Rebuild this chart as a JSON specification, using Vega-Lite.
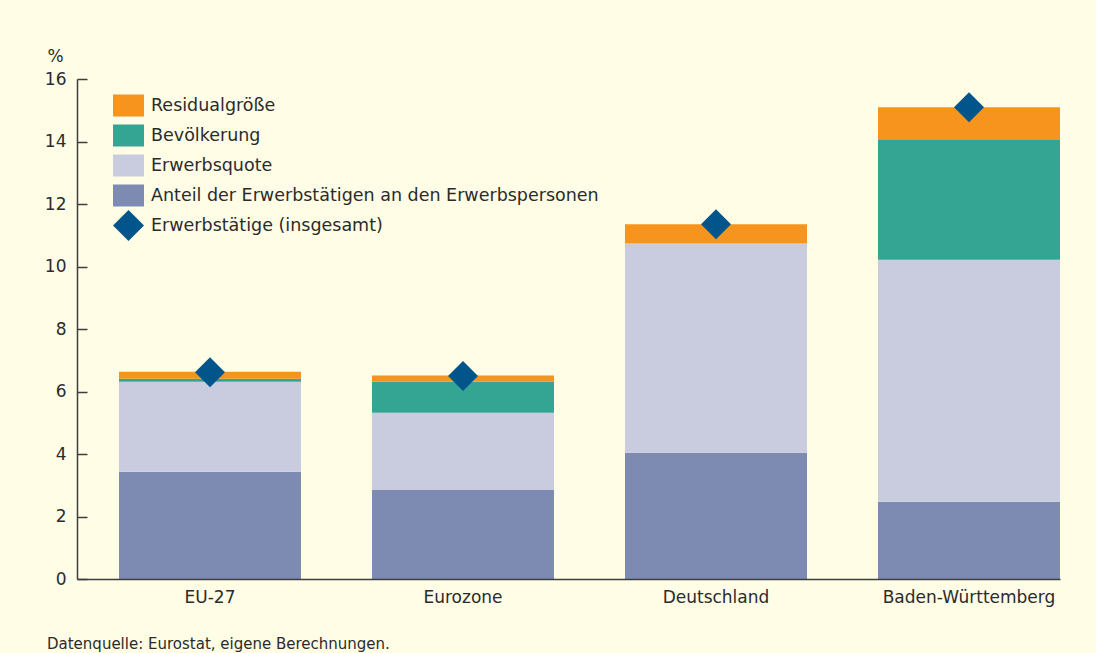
{
  "$schema": "https://vega.github.io/schema/vega-lite/v6.json",
  "width": 983,
  "height": 500,
  "autosize": {"type": "none"},
  "padding": {"left": 77, "top": 79, "right": 36, "bottom": 74},
  "background": "#fffde6",
  "config": {"view": {"stroke": null}, "font": "DejaVu Sans"},
  "title": {
    "text": "Datenquelle: Eurostat, eigene Berechnungen.",
    "orient": "bottom",
    "anchor": "start",
    "frame": "group",
    "dx": -30,
    "offset": 32,
    "fontSize": 15,
    "fontWeight": "normal",
    "color": "#2b2b2b",
    "font": "DejaVu Sans"
  },
  "datasets": {
    "komponenten": [
      {"region": "EU-27", "komponente": "Anteil der Erwerbstätigen an den Erwerbspersonen", "wert": 3.43, "ord": 1},
      {"region": "EU-27", "komponente": "Erwerbsquote", "wert": 2.88, "ord": 2},
      {"region": "EU-27", "komponente": "Bevölkerung", "wert": 0.10, "ord": 3},
      {"region": "EU-27", "komponente": "Residualgröße", "wert": 0.22, "ord": 4},
      {"region": "Eurozone", "komponente": "Anteil der Erwerbstätigen an den Erwerbspersonen", "wert": 2.85, "ord": 1},
      {"region": "Eurozone", "komponente": "Erwerbsquote", "wert": 2.47, "ord": 2},
      {"region": "Eurozone", "komponente": "Bevölkerung", "wert": 0.99, "ord": 3},
      {"region": "Eurozone", "komponente": "Residualgröße", "wert": 0.20, "ord": 4},
      {"region": "Deutschland", "komponente": "Anteil der Erwerbstätigen an den Erwerbspersonen", "wert": 4.04, "ord": 1},
      {"region": "Deutschland", "komponente": "Erwerbsquote", "wert": 6.70, "ord": 2},
      {"region": "Deutschland", "komponente": "Bevölkerung", "wert": 0.0, "ord": 3},
      {"region": "Deutschland", "komponente": "Residualgröße", "wert": 0.61, "ord": 4},
      {"region": "Baden-Württemberg", "komponente": "Anteil der Erwerbstätigen an den Erwerbspersonen", "wert": 2.47, "ord": 1},
      {"region": "Baden-Württemberg", "komponente": "Erwerbsquote", "wert": 7.75, "ord": 2},
      {"region": "Baden-Württemberg", "komponente": "Bevölkerung", "wert": 3.85, "ord": 3},
      {"region": "Baden-Württemberg", "komponente": "Residualgröße", "wert": 1.03, "ord": 4}
    ],
    "gesamt": [
      {"region": "EU-27", "komponente": "Erwerbstätige (insgesamt)", "wert": 6.62},
      {"region": "Eurozone", "komponente": "Erwerbstätige (insgesamt)", "wert": 6.50},
      {"region": "Deutschland", "komponente": "Erwerbstätige (insgesamt)", "wert": 11.35},
      {"region": "Baden-Württemberg", "komponente": "Erwerbstätige (insgesamt)", "wert": 15.10}
    ]
  },
  "layer": [
    {
      "data": {"name": "komponenten"},
      "mark": {"type": "bar"},
      "encoding": {
        "x": {
          "field": "region",
          "type": "nominal",
          "sort": ["EU-27", "Eurozone", "Deutschland", "Baden-Württemberg"],
          "scale": {"paddingInner": 0.2806, "paddingOuter": 0.083, "align": 1},
          "axis": {
            "title": null,
            "ticks": false,
            "labelAngle": 0,
            "labelFontSize": 17,
            "labelColor": "#2b2b2b",
            "labelPadding": 10,
            "domainColor": "#3d3d3d",
            "domainWidth": 1.5,
            "zindex": 1
          }
        },
        "y": {
          "field": "wert",
          "type": "quantitative",
          "stack": "zero",
          "scale": {"domain": [0, 16], "nice": false},
          "axis": {
            "title": "%",
            "titleAngle": 0,
            "titleX": -30,
            "titleY": -22.5,
            "titleAlign": "left",
            "titleBaseline": "middle",
            "titleFontWeight": "normal",
            "titleFontSize": 17,
            "titleColor": "#2b2b2b",
            "values": [0, 2, 4, 6, 8, 10, 12, 14, 16],
            "grid": false,
            "tickSize": -10,
            "tickWidth": 1.5,
            "tickColor": "#3d3d3d",
            "labelPadding": 21,
            "labelFontSize": 17,
            "labelColor": "#2b2b2b",
            "domainColor": "#3d3d3d",
            "domainWidth": 1.5,
            "zindex": 1
          }
        },
        "color": {
          "field": "komponente",
          "type": "nominal",
          "scale": {
            "domain": ["Residualgröße", "Bevölkerung", "Erwerbsquote", "Anteil der Erwerbstätigen an den Erwerbspersonen", "Erwerbstätige (insgesamt)"],
            "range": ["#f7941d", "#35a593", "#c9cbdf", "#7d8bb3", "#02558b"]
          },
          "legend": {
            "title": null,
            "orient": "none",
            "legendX": 36,
            "legendY": 11,
            "symbolSize": 961,
            "symbolStrokeWidth": 0,
            "symbolOpacity": 1,
            "labelFontSize": 17.5,
            "labelColor": "#2b2b2b",
            "labelOffset": 7,
            "rowPadding": 3,
            "labelLimit": 600
          }
        },
        "order": {"field": "ord", "type": "quantitative"}
      }
    },
    {
      "data": {"name": "gesamt"},
      "mark": {"type": "point", "filled": true, "size": 900, "opacity": 1},
      "encoding": {
        "x": {"field": "region", "type": "nominal", "sort": ["EU-27", "Eurozone", "Deutschland", "Baden-Württemberg"]},
        "y": {"field": "wert", "type": "quantitative"},
        "color": {"field": "komponente", "type": "nominal"},
        "shape": {
          "field": "komponente",
          "type": "nominal",
          "scale": {
            "domain": ["Residualgröße", "Bevölkerung", "Erwerbsquote", "Anteil der Erwerbstätigen an den Erwerbspersonen", "Erwerbstätige (insgesamt)"],
            "range": ["M-1,-0.71H1V0.71H-1Z", "M-1,-0.71H1V0.71H-1Z", "M-1,-0.71H1V0.71H-1Z", "M-1,-0.71H1V0.71H-1Z", "diamond"]
          }
        }
      }
    }
  ]
}
